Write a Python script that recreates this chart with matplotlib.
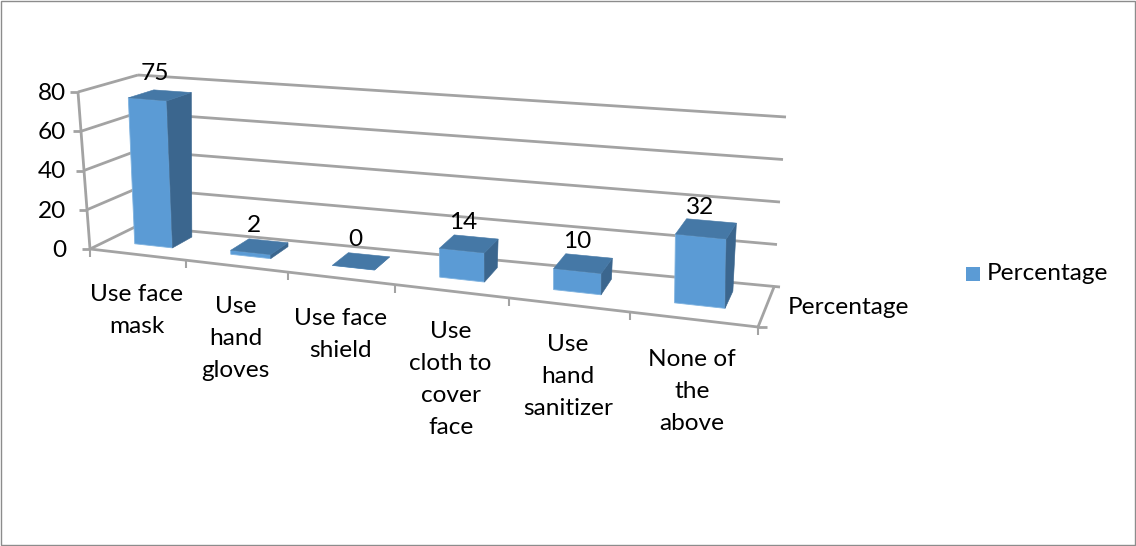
import matplotlib
matplotlib.use('Agg')
import matplotlib.pyplot as plt
from matplotlib.patches import Polygon, Rectangle

categories = ['Use face\nmask', 'Use\nhand\ngloves', 'Use face\nshield',
              'Use\ncloth to\ncover\nface', 'Use\nhand\nsanitizer', 'None of\nthe\nabove']
values = [75, 2, 0, 14, 10, 32]
y_ticks = [0, 20, 40, 60, 80]
series_name = 'Percentage'

plt.rcParams['font.family'] = ['Lato', 'DejaVu Sans']
font_size = 17.6
grid_color = '#a3a3a3'
front_color = '#5b9bd5'
side_color = '#3b668e'
top_color = '#4578a6'

# corners of the 3d box on the page, [depth 0, depth 1] at left and right
floor_left = [(90, 249), (137, 226)]
floor_right = [(758, 327), (774, 287)]
top_left = [(78, 92), (138, 75)]
top_right = [(757, 150), (786, 117)]
y_max = 80
perspective = 1.19


def mix(a, b, f):
    return (a[0] + (b[0] - a[0]) * f, a[1] + (b[1] - a[1]) * f)


def project(pos, value, depth):
    # pos in categories, value on the y scale, depth 0 front to 1 back
    t = pos / len(categories)
    s = t / (t + perspective * (1 - t))
    floor = mix(mix(floor_left[0], floor_left[1], depth), mix(floor_right[0], floor_right[1], depth), s)
    top = mix(mix(top_left[0], top_left[1], depth), mix(top_right[0], top_right[1], depth), s)
    return mix(floor, top, value / y_max)


def line(p, q, lw=2.0, z=1):
    ax.plot([p[0], q[0]], [p[1], q[1]], color=grid_color, lw=lw, zorder=z, solid_capstyle='butt')


fig = plt.figure(figsize=(11.36, 5.46), dpi=100)
ax = fig.add_axes([0, 0, 1, 1])
ax.set_xlim(0, 1136)
ax.set_ylim(546, 0)
ax.axis('off')

ax.add_patch(Rectangle((0.5, 0.5), 1134.5, 544, fill=False, ec='#8c8c8c', lw=1.0))

n = len(categories)
# walls and gridlines
for v in y_ticks:
    a = project(0, v, 0)
    b = project(0, v, 1)
    c = project(n, v, 1)
    line(a, b)
    line(b, (c[0] + 6 if v == 0 else c[0], c[1]))
    line((a[0] - 8, a[1]), a)
    ax.text(66, a[1] + 1.5, str(v), ha='right', va='center', fontsize=font_size, color='black')
line(project(0, 0, 0), project(0, y_max, 0))
line(project(0, 0, 0), project(n, 0, 0))
line(project(n, 0, 0), project(n, 0, 1))
end = project(n, 0, 0)
line(end, (end[0] + 9, end[1]))
for i in range(n + 1):
    p = project(i, 0, 0)
    line(p, (p[0], p[1] + 8), lw=1.5)

# bars, front then side then top
for i, v in enumerate(values):
    x0, x1 = i + 0.3, i + 0.7
    z0, z1 = 0.36, 0.8
    ax.add_patch(Polygon([project(x0, 0, z0), project(x1, 0, z0), project(x1, v, z0), project(x0, v, z0)],
                         fc=front_color, ec='#7fb3e0', lw=0.6, zorder=3))
    ax.add_patch(Polygon([project(x1, 0, z0), project(x1, 0, z1), project(x1, v, z1), project(x1, v, z0)],
                         fc=side_color, ec=side_color, lw=0.4, zorder=3))
    ax.add_patch(Polygon([project(x0, v, z0), project(x1, v, z0), project(x1, v, z1), project(x0, v, z1)],
                         fc=top_color, ec=top_color, lw=0.4, zorder=3))
    c = project(i + 0.5, v, 0.6)
    ax.text(c[0] - 6.5, c[1] - 21, str(v), ha='center', va='center', fontsize=font_size, color='black', zorder=4)

# category labels, one text per line to hold the wide line spacing
for i, label in enumerate(categories):
    p = project(i + 0.5, 0, 0)
    for j, part in enumerate(label.split('\n')):
        ax.text(p[0] - 0.5, p[1] + 40 + 32 * j, part, ha='center', va='center', fontsize=font_size, color='black')

ax.text(788, 308, series_name, ha='left', va='center', fontsize=font_size, color='black')

# legend
ax.add_patch(Rectangle((966, 267), 14, 14, fc=front_color, ec='none'))
ax.text(987, 274, series_name, ha='left', va='center', fontsize=font_size, color='black')

fig.savefig('out.png', dpi=100)
